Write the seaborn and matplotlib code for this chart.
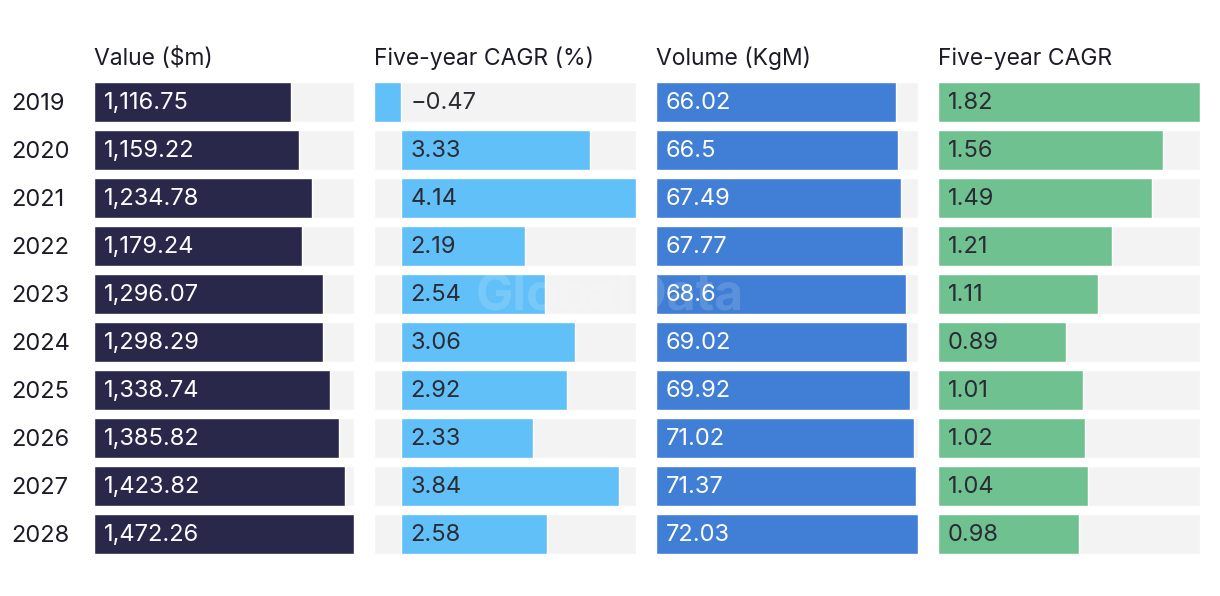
import numpy as np
import pandas as pd
import seaborn as sns
import matplotlib.pyplot as plt
from matplotlib.transforms import ScaledTranslation

years = ["2019", "2020", "2021", "2022", "2023", "2024", "2025", "2026", "2027", "2028"]
value_m = [1116.75, 1159.22, 1234.78, 1179.24, 1296.07, 1298.29, 1338.74, 1385.82, 1423.82, 1472.26]
value_cagr = [-0.47, 3.33, 4.14, 2.19, 2.54, 3.06, 2.92, 2.33, 3.84, 2.58]
volume_kgm = [66.02, 66.5, 67.49, 67.77, 68.6, 69.02, 69.92, 71.02, 71.37, 72.03]
volume_cagr = [1.82, 1.56, 1.49, 1.21, 1.11, 0.89, 1.01, 1.02, 1.04, 0.98]

titles = ["Value ($m)", "Five-year CAGR (%)", "Volume (KgM)", "Five-year CAGR"]
colors = ["#29284b", "#62c0f8", "#417ed6", "#70c190"]
text_colors = ["white", "#2b2b33", "white", "#2b2b33"]
track_color = "#f3f3f3"

sns.set_style("white")
plt.rcParams["font.family"] = ["Inter", "DejaVu Sans"]

W, H = 1220, 596
fig = plt.figure(figsize=(W / 100, H / 100), dpi=100)

# panel positions in pixels
lefts = [93.5, 374, 656, 938]
widths = [260.5, 262, 262, 262]
top, bottom = 78, 558

series = [value_m, value_cagr, volume_kgm, volume_cagr]
ypos = np.arange(len(years))

for i, vals in enumerate(series):
    ax = fig.add_axes([lefts[i] / W, (H - bottom) / H, widths[i] / W, (bottom - top) / H])
    df = pd.DataFrame({"year": years, "v": vals})
    lo = min(0, min(vals))
    hi = max(vals)
    # grey track behind each bar
    ax.barh(ypos, hi - lo, left=lo, height=40 / 48, color=track_color, zorder=0)
    sns.barplot(data=df, x="v", y="year", orient="h", color=colors[i],
                width=40 / 48, saturation=1, ax=ax, zorder=1)
    ax.set_xlim(lo, hi)
    ax.set_ylim(len(years) - 0.5, -0.5)
    ax.set_xlabel("")
    ax.set_ylabel("")
    ax.set_xticks([])
    for s in ax.spines.values():
        s.set_visible(False)
    ax.set_title(titles[i], loc="left", fontsize=16.5, color="#1c1c28", pad=9)

    # value labels, 10px right of the zero line
    offset = ax.transData + ScaledTranslation(0.1, -0.01, fig.dpi_scale_trans)
    for j, v in enumerate(vals):
        label = format(v, ",").replace("-", "\u2212")
        ax.text(0, j, label, transform=offset, va="center", ha="left",
                fontsize=17, color=text_colors[i], zorder=3)

    if i == 0:
        ax.set_yticks(ypos)
        ax.set_yticklabels(years, fontsize=17, color="#1c1c28", ha="left")
        ax.tick_params(axis="y", length=0, pad=82 * 0.72)
    else:
        ax.set_yticks([])

fig.text(0.5, 0.502, "GlobalData", ha="center", va="center", fontsize=36,
         fontweight="bold", color="white", alpha=0.14, zorder=10)

fig.savefig("out.png", dpi=100)
